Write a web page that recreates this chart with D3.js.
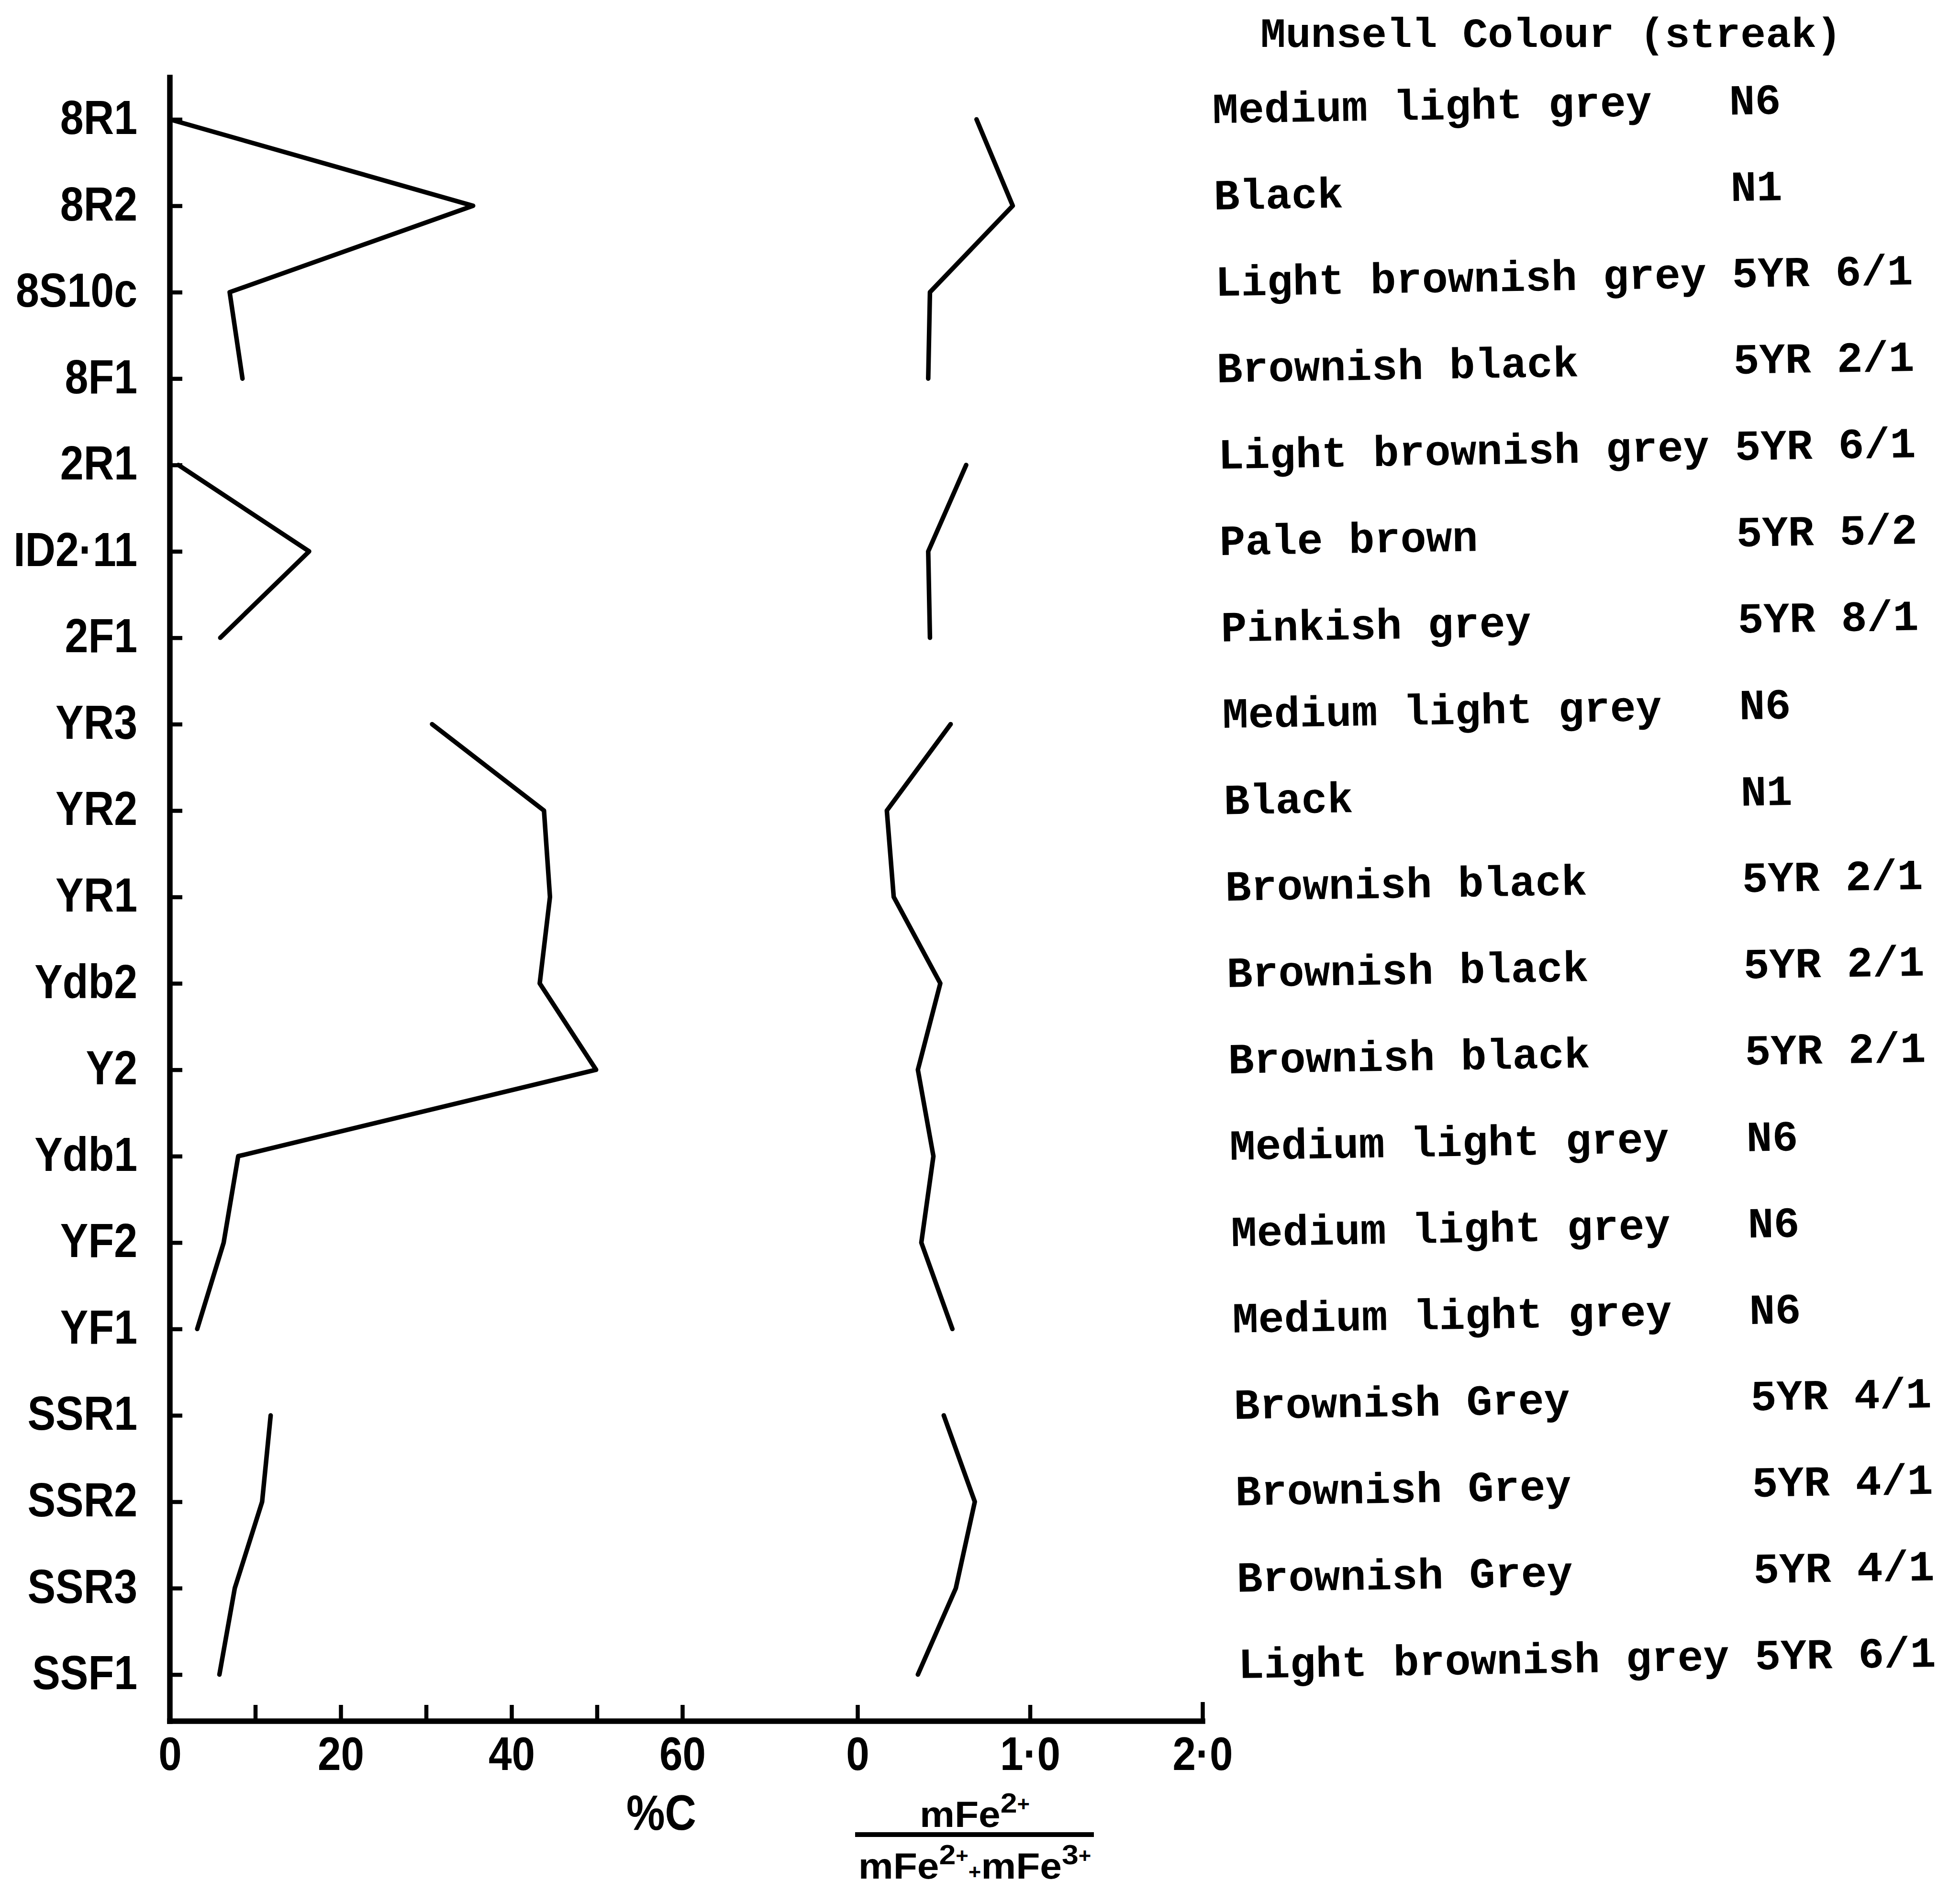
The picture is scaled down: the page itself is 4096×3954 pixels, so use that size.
<!DOCTYPE html>
<html>
<head>
<meta charset="utf-8">
<script src="https://cdn.jsdelivr.net/npm/d3@7"></script>
<style>
  html, body { margin: 0; padding: 0; background: #fff; }
  svg { display: block; }
</style>
</head>
<body>
<script>
// Samples down the profile, grouped by section; each section is drawn as its own trace
const samples = ["8R1", "8R2", "8S10c", "8F1", "2R1", "ID2·11", "2F1", "YR3", "YR2", "YR1", "Ydb2", "Y2", "Ydb1", "YF2", "YF1", "SSR1", "SSR2", "SSR3", "SSF1"];
const sections = ["8", "8", "8", "8", "2", "2", "2", "Y", "Y", "Y", "Y", "Y", "Y", "Y", "Y", "SS", "SS", "SS", "SS"];

// Organic carbon, %
const carbonPct = [0, 35.5, 7.0, 8.5, 1.0, 16.3, 5.9, 30.7, 43.8, 44.5, 43.3, 49.9, 8.0, 6.3, 3.2, 11.8, 10.8, 7.6, 5.8];
// mFe2+ / (mFe2+ + mFe3+)
const ferrousRatio = [0.69, 0.90, 0.42, 0.41, 0.63, 0.41, 0.42, 0.54, 0.17, 0.21, 0.48, 0.35, 0.44, 0.37, 0.55, 0.50, 0.68, 0.57, 0.35];

// Munsell streak colour of each sample
const colourNames = ["Medium light grey", "Black", "Light brownish grey", "Brownish black", "Light brownish grey", "Pale brown", "Pinkish grey", "Medium light grey", "Black", "Brownish black", "Brownish black", "Brownish black", "Medium light grey", "Medium light grey", "Medium light grey", "Brownish Grey", "Brownish Grey", "Brownish Grey", "Light brownish grey"];
const munsellCodes = ["N6", "N1", "5YR 6/1", "5YR 2/1", "5YR 6/1", "5YR 5/2", "5YR 8/1", "N6", "N1", "5YR 2/1", "5YR 2/1", "5YR 2/1", "N6", "N6", "N6", "5YR 4/1", "5YR 4/1", "5YR 4/1", "5YR 6/1"];

// Axis ticks
const carbonTicks = [0, 10, 20, 30, 40, 50, 60];
const ferrousTicks = [0, 1, 2];
const ferrousTickLabels = ["0", "1·0", "2·0"];

const W = 4096, H = 3954;
const ink = "#000";
const sansFont = "'Liberation Sans', Arial, 'DejaVu Sans', sans-serif";
const monoFont = "'Liberation Mono', 'DejaVu Sans Mono', monospace";

const svg = d3.select("body").append("svg")
  .attr("width", W).attr("height", H)
  .attr("viewBox", `0 0 ${W} ${H}`);
svg.append("rect").attr("width", W).attr("height", H).attr("fill", "#fff");

// Plot frame
const axisX = 355, axisTop = 162, baseY = 3597;

const y = d3.scalePoint().domain(samples).range([249.5, 3499.6]).padding(0);
const xC = d3.scaleLinear().domain([0, 60]).range([axisX, 1426]);
const xFe = d3.scaleLinear().domain([0, 2]).range([1792, 2513]);

const rows = samples.map((s, i) => ({
  sample: s, section: sections[i], c: carbonPct[i], fe: ferrousRatio[i],
  colour: colourNames[i], code: munsellCodes[i]
}));

// ---- Vertical axis with sample names ----
const labelScaleX = 0.87;
const labelPad = 68;
const gy = svg.append("g")
  .attr("transform", `translate(${axisX},0)`)
  .call(d3.axisLeft(y).tickSizeInner(-26).tickSizeOuter(0).tickPadding(labelPad));
gy.select(".domain").remove();
gy.selectAll(".tick line").attr("stroke", ink).attr("stroke-width", 8.5);
gy.selectAll(".tick text")
  .attr("x", -labelPad / labelScaleX)
  .attr("y", 30)
  .attr("dy", null)
  .attr("transform", `scale(${labelScaleX},1)`)
  .attr("text-anchor", "end")
  .style("font-family", sansFont)
  .style("font-size", "101px")
  .style("font-weight", "bold")
  .attr("fill", ink);

// ---- Horizontal axes: %C and ferrous fraction share one base line ----
const tickScaleX = 0.89;
const tickLabelDrop = 102;

function styleBottomAxis(g) {
  g.select(".domain").remove();
  g.selectAll(".tick line").attr("stroke", ink).attr("stroke-width", 8.5);
  g.selectAll(".tick text")
    .attr("y", tickLabelDrop)
    .attr("dy", null)
    .attr("transform", `scale(${tickScaleX},1)`)
    .style("font-family", sansFont)
    .style("font-size", "98px")
    .style("font-weight", "bold")
    .attr("fill", ink);
}

const gC = svg.append("g")
  .attr("transform", `translate(0,${baseY})`)
  .call(d3.axisBottom(xC).tickValues(carbonTicks).tickSizeInner(-34).tickSizeOuter(0).tickPadding(0)
    .tickFormat(d => (d % 20 === 0 ? String(d) : "")));
styleBottomAxis(gC);
gC.selectAll(".tick").filter(d => d === 0).select("line").remove();

const gFe = svg.append("g")
  .attr("transform", `translate(0,${baseY})`)
  .call(d3.axisBottom(xFe).tickValues(ferrousTicks).tickSizeInner(-34).tickSizeOuter(0).tickPadding(0)
    .tickFormat((d, i) => ferrousTickLabels[i]));
styleBottomAxis(gFe);
gFe.selectAll(".tick").filter(d => d === 2).select("line").attr("y2", -40);

// Axis lines
svg.append("line")
  .attr("x1", axisX).attr("y1", axisTop).attr("x2", axisX).attr("y2", baseY)
  .attr("stroke", ink).attr("stroke-width", 11.5).attr("stroke-linecap", "square");
svg.append("line")
  .attr("x1", axisX).attr("y1", baseY).attr("x2", xFe(2)).attr("y2", baseY)
  .attr("stroke", ink).attr("stroke-width", 11.5).attr("stroke-linecap", "square");

// ---- Profile traces ----
const carbonLine = d3.line().x(d => xC(d.c)).y(d => y(d.sample));
const ferrousLine = d3.line().x(d => xFe(d.fe)).y(d => y(d.sample));
const traces = svg.append("g")
  .attr("fill", "none").attr("stroke", ink).attr("stroke-width", 9.5)
  .attr("stroke-linejoin", "round").attr("stroke-linecap", "round");
for (const [, pts] of d3.groups(rows, d => d.section)) {
  traces.append("path").attr("d", carbonLine(pts));
  traces.append("path").attr("d", ferrousLine(pts));
}

// ---- Axis titles ----
svg.append("text")
  .attr("transform", "translate(1382,3824) scale(0.88,1)")
  .attr("text-anchor", "middle")
  .style("font-family", sansFont).style("font-size", "103px").style("font-weight", "bold")
  .attr("fill", ink)
  .text("%C");

const fracScale = 1.08;
const frac = svg.append("g")
  .attr("transform", `translate(2037,0) scale(${fracScale},1)`)
  .attr("fill", ink)
  .style("font-family", sansFont).style("font-weight", "bold");

const num = frac.append("text").attr("x", 0).attr("y", 3818).attr("text-anchor", "middle").style("font-size", "76px");
num.append("tspan").text("mFe");
num.append("tspan").attr("dy", -30).style("font-size", "58px").text("2");
num.append("tspan").attr("dy", -4).style("font-size", "42px").text("+");

frac.append("line")
  .attr("x1", (1787 - 2037) / fracScale).attr("x2", (2286 - 2037) / fracScale)
  .attr("y1", 3834).attr("y2", 3834)
  .attr("stroke", ink).attr("stroke-width", 10);

const den = frac.append("text").attr("x", 0).attr("y", 3926).attr("text-anchor", "middle").style("font-size", "76px");
den.append("tspan").text("mFe");
den.append("tspan").attr("dy", -30).style("font-size", "58px").text("2");
den.append("tspan").attr("dy", -4).style("font-size", "42px").text("+");
den.append("tspan").attr("dy", 34).style("font-size", "42px").text("+");
den.append("tspan").style("font-size", "76px").text("mFe");
den.append("tspan").attr("dy", -30).style("font-size", "58px").text("3");
den.append("tspan").attr("dy", -4).style("font-size", "42px").text("+");

// ---- Munsell colour column ----
const monoSize = 90;
const codeOffset = 20 * 0.6 * monoSize;

svg.append("text")
  .attr("x", 2634).attr("y", 98)
  .style("font-family", monoFont).style("font-size", "88px").style("font-weight", "bold")
  .attr("fill", ink)
  .style("white-space", "pre")
  .text("Munsell Colour (streak)");

const y0 = y(samples[0]);
const block = svg.append("g")
  .attr("transform", `translate(2534,${y0}) rotate(-0.95)`)
  .style("font-family", monoFont).style("font-size", monoSize + "px").style("font-weight", "bold")
  .attr("fill", ink);

const rowG = block.selectAll("g.row").data(rows).join("g")
  .attr("class", "row")
  .attr("transform", d => `translate(0,${y(d.sample) - y0 + 7.8})`);
rowG.append("text").attr("x", 0).attr("y", 0).text(d => d.colour);
rowG.append("text").attr("x", codeOffset).attr("y", 0).style("white-space", "pre").text(d => d.code);
</script>
</body>
</html>
